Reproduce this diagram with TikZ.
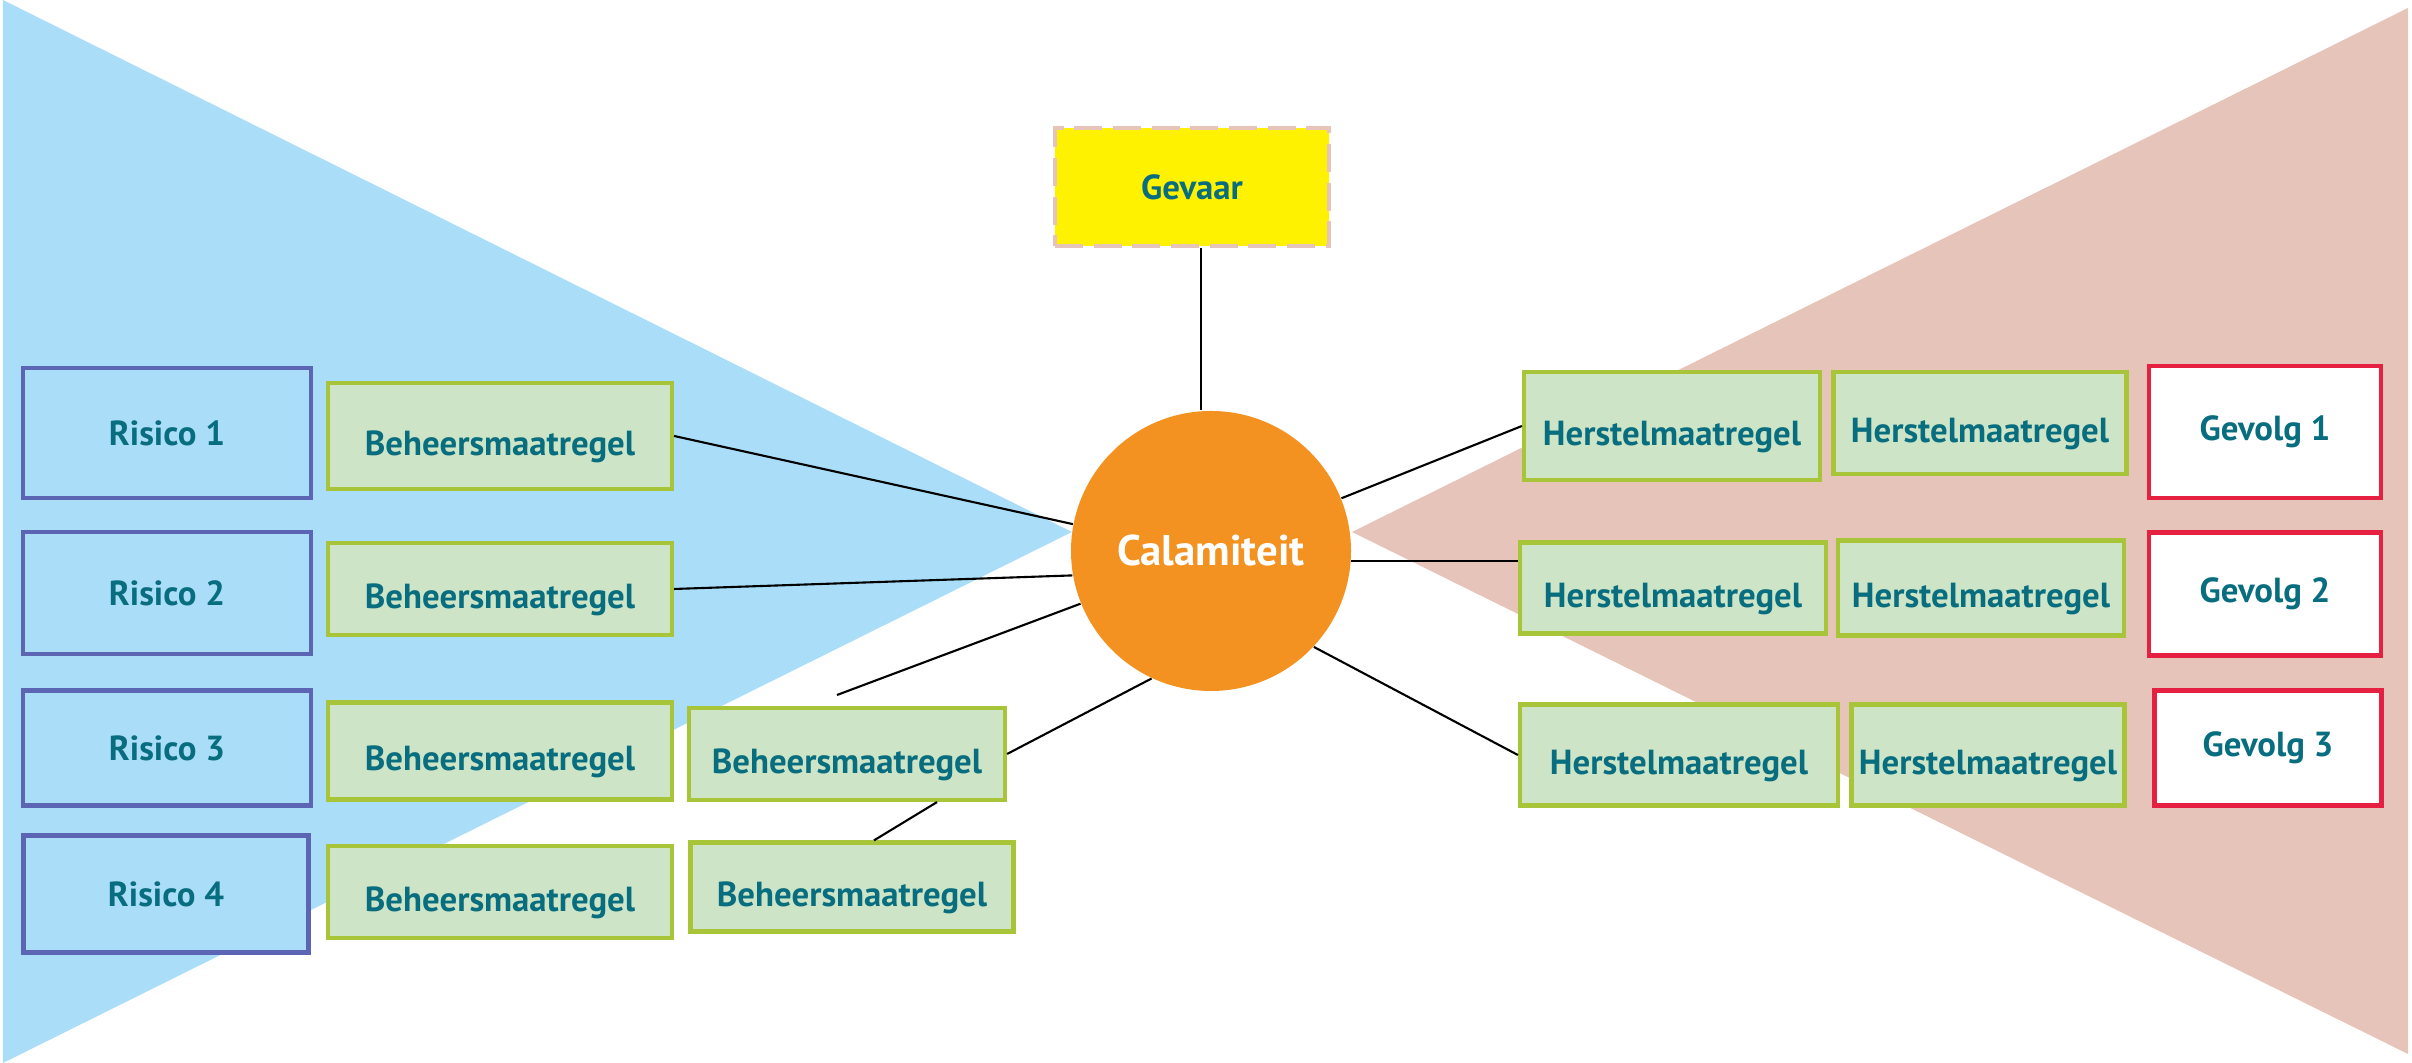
\documentclass[tikz,border=0pt]{standalone}
\usepackage{fontspec}
\setmainfont{PT Sans}
\definecolor{bowblue}{RGB}{170,222,248}
\definecolor{bowpink}{RGB}{230,196,186}
\definecolor{tealtext}{RGB}{8,110,127}
\definecolor{risicoblue}{RGB}{92,100,180}
\definecolor{maatgreen}{RGB}{168,196,56}
\definecolor{maatfill}{RGB}{205,229,198}
\definecolor{gevolgred}{RGB}{230,32,64}
\definecolor{calorange}{RGB}{243,146,32}
\definecolor{gevaaryellow}{RGB}{255,242,0}

\begin{document}
\begin{tikzpicture}[
    box/.style={draw, line width=1.2pt, inner sep=0pt, text=tealtext,
      font=\bfseries\fontsize{9.9}{12}\selectfont},
    risico/.style={box, draw=risicoblue, fill=bowblue},
    maatregel/.style={box, draw=maatgreen, fill=maatfill, text height=13pt, text depth=2pt},
    gevolg/.style={box, draw=gevolgred, fill=white},
    link/.style={black, line width=0.6pt}]
      \useasboundingbox (0,0) rectangle (24.12,10.63) ;
      % bow tie
      \fill[bowblue] (0.03,10.63) -- (10.72,5.31) -- (0.03,0) -- cycle ;
      \fill[bowpink] (24.08,10.55) -- (13.52,5.31) -- (24.08,0.09) -- cycle ;
      % top event
      \node[box, fill=gevaaryellow, draw=bowpink, dash pattern=on 8pt off 3pt,
        minimum width=2.74cm, minimum height=1.18cm] (gevaar) at (11.92,8.76) {Gevaar} ;
      \node[circle, fill=calorange, text=white, minimum size=2.80cm, inner sep=0pt,
        font=\bfseries\fontsize{12.2}{14}\selectfont] (cal) at (12.11,5.12) {Calamiteit} ;
      % risks
      \node[risico, minimum width=2.88cm, minimum height=1.30cm] (ris1) at (1.67,6.30) {Risico 1} ;
      \node[risico, minimum width=2.88cm, minimum height=1.22cm] (ris2) at (1.67,4.70) {Risico 2} ;
      \node[risico, minimum width=2.88cm, minimum height=1.15cm] (ris3) at (1.67,3.15) {Risico 3} ;
      \node[risico, minimum width=2.85cm, minimum height=1.17cm] (ris4) at (1.66,1.69) {Risico 4} ;
      % barriers left
      \node[maatregel, minimum width=3.44cm, minimum height=1.06cm] (beh1) at (5.00,6.27) {Beheersmaatregel} ;
      \node[maatregel, minimum width=3.44cm, minimum height=0.92cm] (beh2) at (5.00,4.74) {Beheersmaatregel} ;
      \node[maatregel, minimum width=3.44cm, minimum height=0.97cm] (beh3) at (5.00,3.12) {Beheersmaatregel} ;
      \node[maatregel, minimum width=3.44cm, minimum height=0.92cm] (beh4) at (5.00,1.71) {Beheersmaatregel} ;
      \node[maatregel, minimum width=3.16cm, minimum height=0.92cm] (beh3b) at (8.47,3.09) {Beheersmaatregel} ;
      \node[maatregel, minimum width=3.23cm, minimum height=0.89cm] (beh4b) at (8.52,1.76) {Beheersmaatregel} ;
      % barriers right
      \node[maatregel, minimum width=2.96cm, minimum height=1.08cm] (her1) at (16.72,6.37) {Herstelmaatregel} ;
      \node[maatregel, minimum width=3.06cm, minimum height=0.91cm] (her2) at (16.73,4.75) {Herstelmaatregel} ;
      \node[maatregel, minimum width=3.18cm, minimum height=1.01cm] (her3) at (16.79,3.08) {Herstelmaatregel} ;
      \node[maatregel, minimum width=2.93cm, minimum height=1.02cm] (her1b) at (19.80,6.40) {Herstelmaatregel} ;
      \node[maatregel, minimum width=2.86cm, minimum height=0.95cm] (her2b) at (19.81,4.75) {Herstelmaatregel} ;
      \node[maatregel, minimum width=2.73cm, minimum height=1.01cm] (her3b) at (19.88,3.08) {Herstelmaatregel} ;
      % consequences
      \node[gevolg, minimum width=2.32cm, minimum height=1.32cm] (gev1) at (22.65,6.31) {Gevolg 1} ;
      \node[gevolg, minimum width=2.32cm, minimum height=1.23cm] (gev2) at (22.65,4.69) {Gevolg 2} ;
      \node[gevolg, minimum width=2.27cm, minimum height=1.15cm] (gev3) at (22.68,3.15) {Gevolg 3} ;
      % connectors
      \coordinate (loose) at (8.37,3.68) ;
      \draw[link] ([xshift=0.09cm]gevaar.south) -- ([xshift=0.09cm]gevaar.south |- cal.north) ;
      \draw[link] (beh1.east) -- (cal.169) ;
      \draw[link] (beh2.east) -- (cal.190) ;
      \draw[link] (loose) -- (cal.202) ;
      \draw[link] (beh3b.east) -- (cal.245) ;
      \draw[link] ([xshift=0.22cm]beh4b.north) -- ([xshift=0.90cm]beh3b.south) ;
      \draw[link] (cal.22) -- (her1.west) ;
      \draw[link] (cal.-4) -- (cal.-4 -| her2.west) ;
      \draw[link] (cal.-43) -- (her3.west) ;
\end{tikzpicture}
\end{document}
